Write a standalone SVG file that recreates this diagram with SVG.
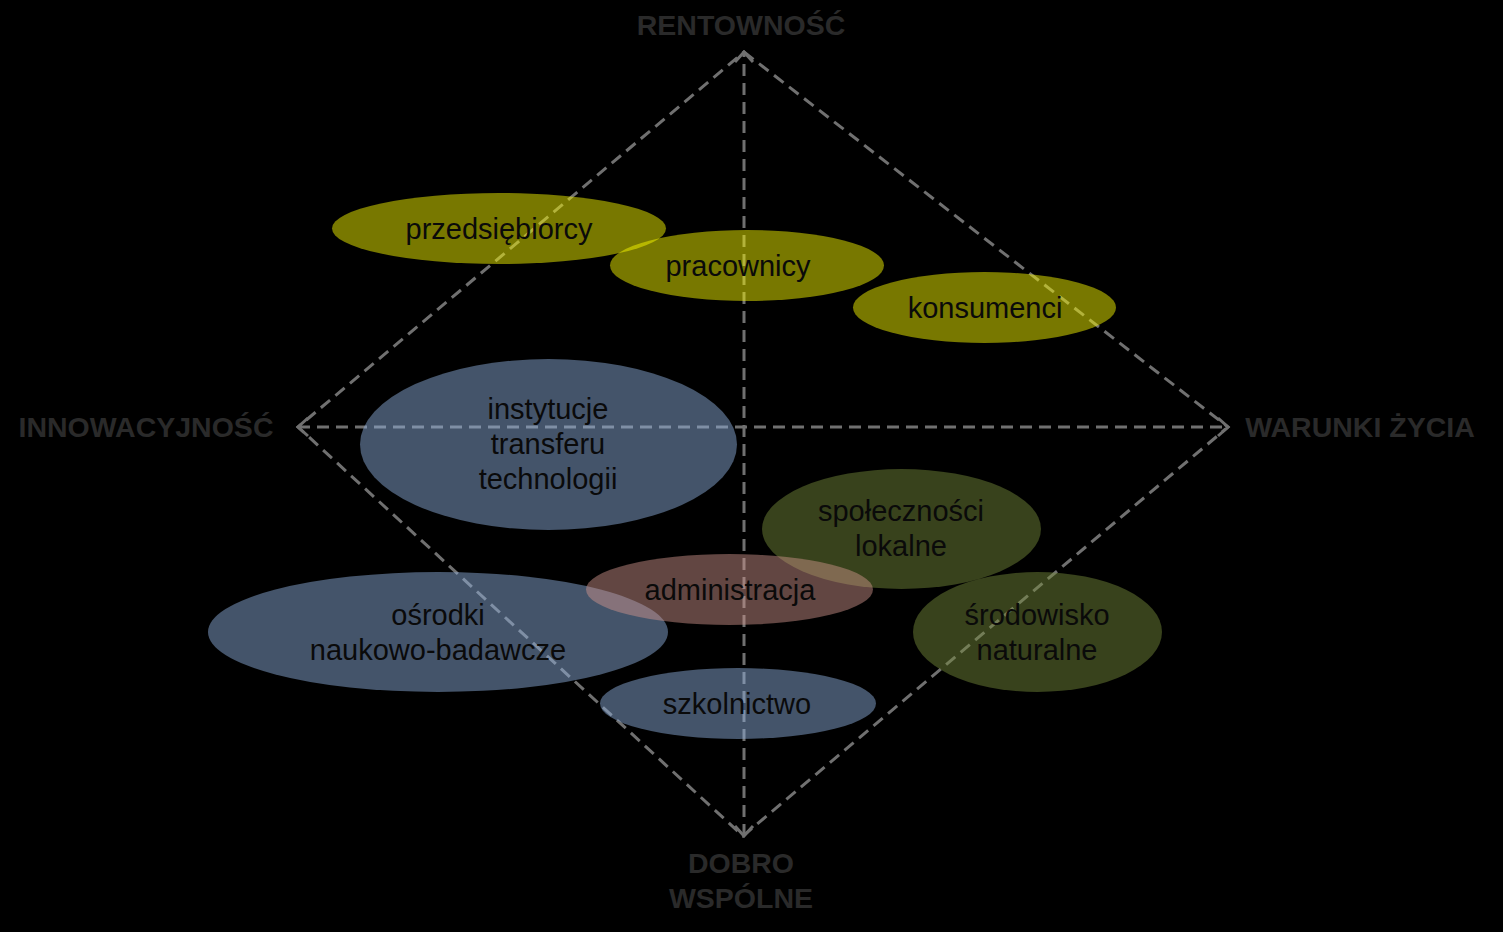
<svg xmlns="http://www.w3.org/2000/svg" width="1503" height="932" viewBox="0 0 1503 932">
<defs>
<marker id="arr" markerUnits="userSpaceOnUse" markerWidth="14" markerHeight="22" viewBox="-2 -11 14 22" refX="10" refY="0" orient="auto-start-reverse">
<path d="M0,-9 L10,0 L0,9" fill="none" stroke="#707070" stroke-width="3" stroke-dasharray="none"/>
</marker>
</defs>
<style>
.axis{fill:#2a2a2a;font-family:"Liberation Sans",Arial,sans-serif;font-weight:bold;font-size:28.5px;text-anchor:middle}
.lbl{fill:#0a0a0a;font-family:"Liberation Sans",Arial,sans-serif;font-size:29px;text-anchor:middle}
.ln{stroke:#707070;stroke-width:3;stroke-dasharray:12 7;fill:none}
.y{fill:#ffff00;fill-opacity:0.47}
.b{fill:#91b3e2;fill-opacity:0.47}
.g{fill:#778c3c;fill-opacity:0.47}
.r{fill:#d0958c;fill-opacity:0.47}
</style>
<rect width="1503" height="932" fill="#000"/>
<g id="connectors">
<path class="ln" d="M744,52 L1228,427 L743,836 L298,427 Z"/>
<line class="ln" x1="744" y1="836" x2="744" y2="52" marker-start="url(#arr)" marker-end="url(#arr)"/>
<line class="ln" x1="298" y1="427" x2="1228" y2="427" marker-start="url(#arr)" marker-end="url(#arr)"/>
</g>
<g id="axis-labels">
<text class="axis" x="741" y="35">RENTOWNOŚĆ</text>
<text class="axis" x="146" y="437">INNOWACYJNOŚĆ</text>
<text class="axis" x="1360" y="437">WARUNKI ŻYCIA</text>
<text class="axis" x="741" y="873">DOBRO</text>
<text class="axis" x="741" y="908">WSPÓLNE</text>
</g>
<g id="przedsiebiorcy"><ellipse class="y" cx="499" cy="228.5" rx="167" ry="35.5"/><text class="lbl" x="499" y="239">przedsiębiorcy</text></g>
<g id="pracownicy"><ellipse class="y" cx="747" cy="265.5" rx="137" ry="35.5"/><text class="lbl" x="738" y="276">pracownicy</text></g>
<g id="konsumenci"><ellipse class="y" cx="984.5" cy="307.5" rx="131.5" ry="35.5"/><text class="lbl" x="985" y="318">konsumenci</text></g>
<g id="instytucje"><ellipse class="b" cx="548.5" cy="444.5" rx="188.5" ry="85.5"/><text class="lbl" x="548" y="419">instytucje</text><text class="lbl" x="548" y="454">transferu</text><text class="lbl" x="548" y="489">technologii</text></g>
<g id="spolecznosci"><ellipse class="g" cx="901.5" cy="529" rx="139.5" ry="60"/><text class="lbl" x="901" y="521">społeczności</text><text class="lbl" x="901" y="556">lokalne</text></g>
<g id="osrodki"><ellipse class="b" cx="438" cy="632" rx="230" ry="60"/><text class="lbl" x="438" y="625">ośrodki</text><text class="lbl" x="438" y="660">naukowo-badawcze</text></g>
<g id="srodowisko"><ellipse class="g" cx="1037.5" cy="632" rx="124.5" ry="60"/><text class="lbl" x="1037" y="625">środowisko</text><text class="lbl" x="1037" y="660">naturalne</text></g>
<g id="administracja"><ellipse class="r" cx="729.5" cy="589.5" rx="143.5" ry="35.5"/><text class="lbl" x="730" y="600">administracja</text></g>
<g id="szkolnictwo"><ellipse class="b" cx="738" cy="703.5" rx="138" ry="35.5"/><text class="lbl" x="737" y="714">szkolnictwo</text></g>
</svg>
